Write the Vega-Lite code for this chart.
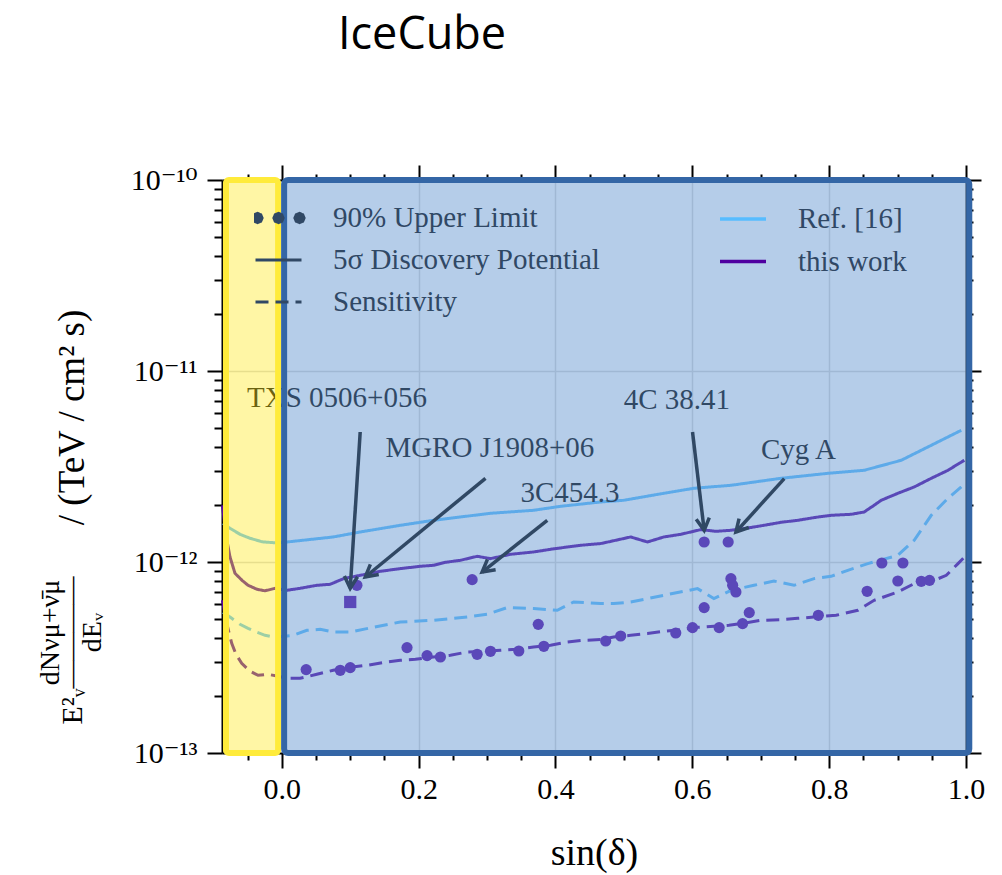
{
  "$schema": "https://vega.github.io/schema/vega-lite/v6.json",
  "width": 744,
  "height": 573,
  "autosize": {"type": "none"},
  "padding": {"left": 222, "top": 180, "right": 36, "bottom": 122},
  "background": "white",
  "config": {
    "view": {"stroke": null},
    "font": "Liberation Serif",
    "axis": {"labelFont": "Liberation Serif, DejaVu Serif", "titleFont": "Liberation Serif, DejaVu Serif", "labelColor": "black", "titleColor": "black", "titleFontWeight": "normal", "tickColor": "black", "domainColor": "black"},
    "legend": {"labelFont": "Liberation Serif", "labelColor": "#304865", "symbolBaseStrokeColor": "#304865", "symbolBaseFillColor": "#304865"}
  },
  "title": {"text": "IceCube", "font": "Open Sans", "fontSize": 45, "fontWeight": "normal", "color": "black", "anchor": "start", "frame": "group", "dx": 116, "baseline": "alphabetic", "offset": 70},
  "datasets": {
    "curves": [
      {"src": "Ref. [16]", "kind": "5σ Discovery Potential", "x": -0.0859, "y": 1.596e-12},
      {"src": "Ref. [16]", "kind": "5σ Discovery Potential", "x": -0.0757, "y": 1.501e-12},
      {"src": "Ref. [16]", "kind": "5σ Discovery Potential", "x": -0.0610, "y": 1.396e-12},
      {"src": "Ref. [16]", "kind": "5σ Discovery Potential", "x": -0.0464, "y": 1.331e-12},
      {"src": "Ref. [16]", "kind": "5σ Discovery Potential", "x": -0.0288, "y": 1.276e-12},
      {"src": "Ref. [16]", "kind": "5σ Discovery Potential", "x": -0.0098, "y": 1.260e-12},
      {"src": "Ref. [16]", "kind": "5σ Discovery Potential", "x": 0.0078, "y": 1.273e-12},
      {"src": "Ref. [16]", "kind": "5σ Discovery Potential", "x": 0.0751, "y": 1.352e-12},
      {"src": "Ref. [16]", "kind": "5σ Discovery Potential", "x": 0.1146, "y": 1.436e-12},
      {"src": "Ref. [16]", "kind": "5σ Discovery Potential", "x": 0.1731, "y": 1.556e-12},
      {"src": "Ref. [16]", "kind": "5σ Discovery Potential", "x": 0.2215, "y": 1.653e-12},
      {"src": "Ref. [16]", "kind": "5σ Discovery Potential", "x": 0.3050, "y": 1.799e-12},
      {"src": "Ref. [16]", "kind": "5σ Discovery Potential", "x": 0.3679, "y": 1.865e-12},
      {"src": "Ref. [16]", "kind": "5σ Discovery Potential", "x": 0.4074, "y": 1.957e-12},
      {"src": "Ref. [16]", "kind": "5σ Discovery Potential", "x": 0.4660, "y": 2.062e-12},
      {"src": "Ref. [16]", "kind": "5σ Discovery Potential", "x": 0.4997, "y": 2.104e-12},
      {"src": "Ref. [16]", "kind": "5σ Discovery Potential", "x": 0.5583, "y": 2.289e-12},
      {"src": "Ref. [16]", "kind": "5σ Discovery Potential", "x": 0.6022, "y": 2.432e-12},
      {"src": "Ref. [16]", "kind": "5σ Discovery Potential", "x": 0.6564, "y": 2.521e-12},
      {"src": "Ref. [16]", "kind": "5σ Discovery Potential", "x": 0.7296, "y": 2.743e-12},
      {"src": "Ref. [16]", "kind": "5σ Discovery Potential", "x": 0.7984, "y": 2.913e-12},
      {"src": "Ref. [16]", "kind": "5σ Discovery Potential", "x": 0.8511, "y": 3.020e-12},
      {"src": "Ref. [16]", "kind": "5σ Discovery Potential", "x": 0.9053, "y": 3.408e-12},
      {"src": "Ref. [16]", "kind": "5σ Discovery Potential", "x": 0.9492, "y": 4.083e-12},
      {"src": "Ref. [16]", "kind": "5σ Discovery Potential", "x": 0.9931, "y": 4.892e-12},

      {"src": "this work", "kind": "5σ Discovery Potential", "x": -0.0867, "y": 1.981e-12},
      {"src": "this work", "kind": "5σ Discovery Potential", "x": -0.0816, "y": 1.380e-12},
      {"src": "this work", "kind": "5σ Discovery Potential", "x": -0.0757, "y": 1.062e-12},
      {"src": "this work", "kind": "5σ Discovery Potential", "x": -0.0684, "y": 8.726e-13},
      {"src": "this work", "kind": "5σ Discovery Potential", "x": -0.0581, "y": 8.017e-13},
      {"src": "this work", "kind": "5σ Discovery Potential", "x": -0.0493, "y": 7.551e-13},
      {"src": "this work", "kind": "5σ Discovery Potential", "x": -0.0362, "y": 7.196e-13},
      {"src": "this work", "kind": "5σ Discovery Potential", "x": -0.0245, "y": 7.067e-13},
      {"src": "this work", "kind": "5σ Discovery Potential", "x": -0.0098, "y": 7.283e-13},
      {"src": "this work", "kind": "5σ Discovery Potential", "x": 0.0073, "y": 7.109e-13},
      {"src": "this work", "kind": "5σ Discovery Potential", "x": 0.0268, "y": 7.283e-13},
      {"src": "this work", "kind": "5σ Discovery Potential", "x": 0.0512, "y": 7.551e-13},
      {"src": "this work", "kind": "5σ Discovery Potential", "x": 0.0707, "y": 7.642e-13},
      {"src": "this work", "kind": "5σ Discovery Potential", "x": 0.0902, "y": 8.183e-13},
      {"src": "this work", "kind": "5σ Discovery Potential", "x": 0.1146, "y": 8.516e-13},
      {"src": "this work", "kind": "5σ Discovery Potential", "x": 0.1439, "y": 8.937e-13},
      {"src": "this work", "kind": "5σ Discovery Potential", "x": 0.1732, "y": 9.234e-13},
      {"src": "this work", "kind": "5σ Discovery Potential", "x": 0.2025, "y": 9.495e-13},
      {"src": "this work", "kind": "5σ Discovery Potential", "x": 0.2215, "y": 9.609e-13},
      {"src": "this work", "kind": "5σ Discovery Potential", "x": 0.2391, "y": 9.963e-13},
      {"src": "this work", "kind": "5σ Discovery Potential", "x": 0.2611, "y": 1.0207e-12},
      {"src": "this work", "kind": "5σ Discovery Potential", "x": 0.2855, "y": 1.0711e-12},
      {"src": "this work", "kind": "5σ Discovery Potential", "x": 0.3050, "y": 1.0418e-12},
      {"src": "this work", "kind": "5σ Discovery Potential", "x": 0.3343, "y": 1.0974e-12},
      {"src": "this work", "kind": "5σ Discovery Potential", "x": 0.3679, "y": 1.1284e-12},
      {"src": "this work", "kind": "5σ Discovery Potential", "x": 0.3928, "y": 1.1656e-12},
      {"src": "this work", "kind": "5σ Discovery Potential", "x": 0.4173, "y": 1.1983e-12},
      {"src": "this work", "kind": "5σ Discovery Potential", "x": 0.4368, "y": 1.2231e-12},
      {"src": "this work", "kind": "5σ Discovery Potential", "x": 0.4660, "y": 1.2485e-12},
      {"src": "this work", "kind": "5σ Discovery Potential", "x": 0.5099, "y": 1.3522e-12},
      {"src": "this work", "kind": "5σ Discovery Potential", "x": 0.5344, "y": 1.2729e-12},
      {"src": "this work", "kind": "5σ Discovery Potential", "x": 0.5583, "y": 1.3522e-12},
      {"src": "this work", "kind": "5σ Discovery Potential", "x": 0.5832, "y": 1.3964e-12},
      {"src": "this work", "kind": "5σ Discovery Potential", "x": 0.6124, "y": 1.4775e-12},
      {"src": "this work", "kind": "5σ Discovery Potential", "x": 0.6344, "y": 1.4475e-12},
      {"src": "this work", "kind": "5σ Discovery Potential", "x": 0.6564, "y": 1.4655e-12},
      {"src": "this work", "kind": "5σ Discovery Potential", "x": 0.6783, "y": 1.5010e-12},
      {"src": "this work", "kind": "5σ Discovery Potential", "x": 0.7047, "y": 1.5562e-12},
      {"src": "this work", "kind": "5σ Discovery Potential", "x": 0.7296, "y": 1.6137e-12},
      {"src": "this work", "kind": "5σ Discovery Potential", "x": 0.7540, "y": 1.6528e-12},
      {"src": "this work", "kind": "5σ Discovery Potential", "x": 0.7808, "y": 1.7140e-12},
      {"src": "this work", "kind": "5σ Discovery Potential", "x": 0.8028, "y": 1.7558e-12},
      {"src": "this work", "kind": "5σ Discovery Potential", "x": 0.8321, "y": 1.7770e-12},
      {"src": "this work", "kind": "5σ Discovery Potential", "x": 0.8511, "y": 1.8272e-12},
      {"src": "this work", "kind": "5σ Discovery Potential", "x": 0.8657, "y": 1.9813e-12},
      {"src": "this work", "kind": "5σ Discovery Potential", "x": 0.8760, "y": 2.1038e-12},
      {"src": "this work", "kind": "5σ Discovery Potential", "x": 0.9004, "y": 2.2895e-12},
      {"src": "this work", "kind": "5σ Discovery Potential", "x": 0.9243, "y": 2.4705e-12},
      {"src": "this work", "kind": "5σ Discovery Potential", "x": 0.9492, "y": 2.7427e-12},
      {"src": "this work", "kind": "5σ Discovery Potential", "x": 0.9736, "y": 3.0200e-12},
      {"src": "this work", "kind": "5σ Discovery Potential", "x": 0.9902, "y": 3.2867e-12},
      {"src": "this work", "kind": "5σ Discovery Potential", "x": 0.9975, "y": 3.408e-12},

      {"src": "Ref. [16]", "kind": "Sensitivity", "x": -0.0859, "y": 5.452e-13},
      {"src": "Ref. [16]", "kind": "Sensitivity", "x": -0.0732, "y": 5.071e-13},
      {"src": "Ref. [16]", "kind": "Sensitivity", "x": -0.0611, "y": 4.717e-13},
      {"src": "Ref. [16]", "kind": "Sensitivity", "x": -0.0493, "y": 4.496e-13},
      {"src": "Ref. [16]", "kind": "Sensitivity", "x": -0.0362, "y": 4.285e-13},
      {"src": "Ref. [16]", "kind": "Sensitivity", "x": -0.0245, "y": 4.132e-13},
      {"src": "Ref. [16]", "kind": "Sensitivity", "x": -0.0098, "y": 4.035e-13},
      {"src": "Ref. [16]", "kind": "Sensitivity", "x": 0.0165, "y": 4.132e-13},
      {"src": "Ref. [16]", "kind": "Sensitivity", "x": 0.0366, "y": 4.389e-13},
      {"src": "Ref. [16]", "kind": "Sensitivity", "x": 0.0561, "y": 4.442e-13},
      {"src": "Ref. [16]", "kind": "Sensitivity", "x": 0.0751, "y": 4.300e-13},
      {"src": "Ref. [16]", "kind": "Sensitivity", "x": 0.1000, "y": 4.300e-13},
      {"src": "Ref. [16]", "kind": "Sensitivity", "x": 0.1337, "y": 4.551e-13},
      {"src": "Ref. [16]", "kind": "Sensitivity", "x": 0.1732, "y": 4.851e-13},
      {"src": "Ref. [16]", "kind": "Sensitivity", "x": 0.2215, "y": 4.951e-13},
      {"src": "Ref. [16]", "kind": "Sensitivity", "x": 0.2709, "y": 5.152e-13},
      {"src": "Ref. [16]", "kind": "Sensitivity", "x": 0.3001, "y": 5.323e-13},
      {"src": "Ref. [16]", "kind": "Sensitivity", "x": 0.3294, "y": 5.771e-13},
      {"src": "Ref. [16]", "kind": "Sensitivity", "x": 0.3679, "y": 5.702e-13},
      {"src": "Ref. [16]", "kind": "Sensitivity", "x": 0.4026, "y": 5.586e-13},
      {"src": "Ref. [16]", "kind": "Sensitivity", "x": 0.4265, "y": 6.174e-13},
      {"src": "Ref. [16]", "kind": "Sensitivity", "x": 0.4660, "y": 6.056e-13},
      {"src": "Ref. [16]", "kind": "Sensitivity", "x": 0.4851, "y": 6.056e-13},
      {"src": "Ref. [16]", "kind": "Sensitivity", "x": 0.5100, "y": 6.174e-13},
      {"src": "Ref. [16]", "kind": "Sensitivity", "x": 0.5583, "y": 6.693e-13},
      {"src": "Ref. [16]", "kind": "Sensitivity", "x": 0.6076, "y": 7.256e-13},
      {"src": "Ref. [16]", "kind": "Sensitivity", "x": 0.6315, "y": 6.432e-13},
      {"src": "Ref. [16]", "kind": "Sensitivity", "x": 0.6564, "y": 7.109e-13},
      {"src": "Ref. [16]", "kind": "Sensitivity", "x": 0.6901, "y": 7.551e-13},
      {"src": "Ref. [16]", "kind": "Sensitivity", "x": 0.7193, "y": 7.950e-13},
      {"src": "Ref. [16]", "kind": "Sensitivity", "x": 0.7486, "y": 7.551e-13},
      {"src": "Ref. [16]", "kind": "Sensitivity", "x": 0.7779, "y": 8.183e-13},
      {"src": "Ref. [16]", "kind": "Sensitivity", "x": 0.8028, "y": 8.413e-13},
      {"src": "Ref. [16]", "kind": "Sensitivity", "x": 0.8272, "y": 9.047e-13},
      {"src": "Ref. [16]", "kind": "Sensitivity", "x": 0.8565, "y": 9.808e-13},
      {"src": "Ref. [16]", "kind": "Sensitivity", "x": 0.9004, "y": 1.0840e-12},
      {"src": "Ref. [16]", "kind": "Sensitivity", "x": 0.9243, "y": 1.2993e-12},
      {"src": "Ref. [16]", "kind": "Sensitivity", "x": 0.9492, "y": 1.7558e-12},
      {"src": "Ref. [16]", "kind": "Sensitivity", "x": 0.9736, "y": 2.1553e-12},
      {"src": "Ref. [16]", "kind": "Sensitivity", "x": 0.9931, "y": 2.4705e-12},
      {"src": "Ref. [16]", "kind": "Sensitivity", "x": 0.9975, "y": 2.552e-12},

      {"src": "this work", "kind": "Sensitivity", "x": -0.0867, "y": 6.301e-13},
      {"src": "this work", "kind": "Sensitivity", "x": -0.0816, "y": 4.951e-13},
      {"src": "this work", "kind": "Sensitivity", "x": -0.0732, "y": 3.751e-13},
      {"src": "this work", "kind": "Sensitivity", "x": -0.0669, "y": 3.287e-13},
      {"src": "this work", "kind": "Sensitivity", "x": -0.0586, "y": 2.949e-13},
      {"src": "this work", "kind": "Sensitivity", "x": -0.0464, "y": 2.677e-13},
      {"src": "this work", "kind": "Sensitivity", "x": -0.0347, "y": 2.551e-13},
      {"src": "this work", "kind": "Sensitivity", "x": -0.0201, "y": 2.582e-13},
      {"src": "this work", "kind": "Sensitivity", "x": -0.0054, "y": 2.521e-13},
      {"src": "this work", "kind": "Sensitivity", "x": 0.0073, "y": 2.461e-13},
      {"src": "this work", "kind": "Sensitivity", "x": 0.0268, "y": 2.461e-13},
      {"src": "this work", "kind": "Sensitivity", "x": 0.0512, "y": 2.582e-13},
      {"src": "this work", "kind": "Sensitivity", "x": 0.0751, "y": 2.710e-13},
      {"src": "this work", "kind": "Sensitivity", "x": 0.1000, "y": 2.810e-13},
      {"src": "this work", "kind": "Sensitivity", "x": 0.1245, "y": 2.879e-13},
      {"src": "this work", "kind": "Sensitivity", "x": 0.1512, "y": 2.985e-13},
      {"src": "this work", "kind": "Sensitivity", "x": 0.1732, "y": 3.057e-13},
      {"src": "this work", "kind": "Sensitivity", "x": 0.1952, "y": 3.094e-13},
      {"src": "this work", "kind": "Sensitivity", "x": 0.2215, "y": 3.181e-13},
      {"src": "this work", "kind": "Sensitivity", "x": 0.2464, "y": 3.247e-13},
      {"src": "this work", "kind": "Sensitivity", "x": 0.2709, "y": 3.379e-13},
      {"src": "this work", "kind": "Sensitivity", "x": 0.2947, "y": 3.408e-13},
      {"src": "this work", "kind": "Sensitivity", "x": 0.3196, "y": 3.449e-13},
      {"src": "this work", "kind": "Sensitivity", "x": 0.3430, "y": 3.491e-13},
      {"src": "this work", "kind": "Sensitivity", "x": 0.3679, "y": 3.589e-13},
      {"src": "this work", "kind": "Sensitivity", "x": 0.3928, "y": 3.663e-13},
      {"src": "this work", "kind": "Sensitivity", "x": 0.4173, "y": 3.812e-13},
      {"src": "this work", "kind": "Sensitivity", "x": 0.4411, "y": 3.891e-13},
      {"src": "this work", "kind": "Sensitivity", "x": 0.4660, "y": 3.924e-13},
      {"src": "this work", "kind": "Sensitivity", "x": 0.4851, "y": 4.049e-13},
      {"src": "this work", "kind": "Sensitivity", "x": 0.5100, "y": 4.132e-13},
      {"src": "this work", "kind": "Sensitivity", "x": 0.5344, "y": 4.218e-13},
      {"src": "this work", "kind": "Sensitivity", "x": 0.5583, "y": 4.337e-13},
      {"src": "this work", "kind": "Sensitivity", "x": 0.5832, "y": 4.427e-13},
      {"src": "this work", "kind": "Sensitivity", "x": 0.6081, "y": 4.551e-13},
      {"src": "this work", "kind": "Sensitivity", "x": 0.6315, "y": 4.606e-13},
      {"src": "this work", "kind": "Sensitivity", "x": 0.6535, "y": 4.662e-13},
      {"src": "this work", "kind": "Sensitivity", "x": 0.6711, "y": 4.758e-13},
      {"src": "this work", "kind": "Sensitivity", "x": 0.7003, "y": 4.951e-13},
      {"src": "this work", "kind": "Sensitivity", "x": 0.7296, "y": 4.993e-13},
      {"src": "this work", "kind": "Sensitivity", "x": 0.7540, "y": 5.071e-13},
      {"src": "this work", "kind": "Sensitivity", "x": 0.7779, "y": 5.152e-13},
      {"src": "this work", "kind": "Sensitivity", "x": 0.8101, "y": 5.258e-13},
      {"src": "this work", "kind": "Sensitivity", "x": 0.8419, "y": 5.586e-13},
      {"src": "this work", "kind": "Sensitivity", "x": 0.8657, "y": 6.301e-13},
      {"src": "this work", "kind": "Sensitivity", "x": 0.9004, "y": 6.965e-13},
      {"src": "this work", "kind": "Sensitivity", "x": 0.9243, "y": 7.705e-13},
      {"src": "this work", "kind": "Sensitivity", "x": 0.9536, "y": 8.017e-13},
      {"src": "this work", "kind": "Sensitivity", "x": 0.9712, "y": 8.516e-13},
      {"src": "this work", "kind": "Sensitivity", "x": 0.9883, "y": 9.808e-13},
      {"src": "this work", "kind": "Sensitivity", "x": 0.9960, "y": 1.0457e-12}
    ],
    "limits": [
      {"kind": "90% Upper Limit", "x": 0.0356, "y": 2.733e-13},
      {"kind": "90% Upper Limit", "x": 0.0854, "y": 2.710e-13},
      {"kind": "90% Upper Limit", "x": 0.1000, "y": 2.800e-13},
      {"kind": "90% Upper Limit", "x": 0.1098, "y": 7.551e-13},
      {"kind": "90% Upper Limit", "x": 0.1830, "y": 3.563e-13},
      {"kind": "90% Upper Limit", "x": 0.2123, "y": 3.235e-13},
      {"kind": "90% Upper Limit", "x": 0.2318, "y": 3.181e-13},
      {"kind": "90% Upper Limit", "x": 0.2782, "y": 8.085e-13},
      {"kind": "90% Upper Limit", "x": 0.2855, "y": 3.287e-13},
      {"kind": "90% Upper Limit", "x": 0.3050, "y": 3.408e-13},
      {"kind": "90% Upper Limit", "x": 0.3464, "y": 3.420e-13},
      {"kind": "90% Upper Limit", "x": 0.3748, "y": 4.717e-13},
      {"kind": "90% Upper Limit", "x": 0.3830, "y": 3.620e-13},
      {"kind": "90% Upper Limit", "x": 0.4734, "y": 3.858e-13},
      {"kind": "90% Upper Limit", "x": 0.4953, "y": 4.098e-13},
      {"kind": "90% Upper Limit", "x": 0.5758, "y": 4.249e-13},
      {"kind": "90% Upper Limit", "x": 0.6003, "y": 4.534e-13},
      {"kind": "90% Upper Limit", "x": 0.6173, "y": 5.771e-13},
      {"kind": "90% Upper Limit", "x": 0.6173, "y": 1.2729e-12},
      {"kind": "90% Upper Limit", "x": 0.6392, "y": 4.534e-13},
      {"kind": "90% Upper Limit", "x": 0.6524, "y": 1.2729e-12},
      {"kind": "90% Upper Limit", "x": 0.6564, "y": 8.183e-13},
      {"kind": "90% Upper Limit", "x": 0.6589, "y": 7.551e-13},
      {"kind": "90% Upper Limit", "x": 0.6637, "y": 6.965e-13},
      {"kind": "90% Upper Limit", "x": 0.6735, "y": 4.758e-13},
      {"kind": "90% Upper Limit", "x": 0.6832, "y": 5.433e-13},
      {"kind": "90% Upper Limit", "x": 0.7842, "y": 5.258e-13},
      {"kind": "90% Upper Limit", "x": 0.8555, "y": 7.024e-13},
      {"kind": "90% Upper Limit", "x": 0.8770, "y": 9.881e-13},
      {"kind": "90% Upper Limit", "x": 0.9078, "y": 9.881e-13},
      {"kind": "90% Upper Limit", "x": 0.9004, "y": 7.950e-13},
      {"kind": "90% Upper Limit", "x": 0.9346, "y": 7.924e-13},
      {"kind": "90% Upper Limit", "x": 0.9467, "y": 8.017e-13}
    ],
    "txs": [
      {"x": 0.1000, "y": 6.174e-13}
    ],
    "arrows": [
      {"name": "TXS 0506+056", "x": 0.1000, "y": 7.283e-13, "x0": 0.1146, "y0": 4.793e-12},
      {"name": "MGRO J1908+06", "x": 0.1220, "y": 8.345e-13, "x0": 0.2977, "y0": 2.743e-12},
      {"name": "3C454.3", "x": 0.2928, "y": 8.862e-13, "x0": 0.3880, "y0": 1.6528e-12},
      {"name": "4C 38.41", "x": 0.6173, "y": 1.4655e-12, "x0": 0.6003, "y0": 4.793e-12},
      {"name": "Cyg A", "x": 0.6637, "y": 1.436e-12, "x0": 0.7344, "y0": 2.733e-12}
    ],
    "labels": [
      {"name": "TXS 0506+056", "x": -0.0508, "y": 7.195e-12},
      {"name": "MGRO J1908+06", "x": 0.1514, "y": 3.937e-12},
      {"name": "3C454.3", "x": 0.3489, "y": 2.289e-12},
      {"name": "4C 38.41", "x": 0.4997, "y": 7.025e-12},
      {"name": "Cyg A", "x": 0.7003, "y": 3.844e-12}
    ],
    "south": [{"lo": -0.0816, "hi": -0.0054}],
    "north": [{"lo": 0.0034, "hi": 1.0048}]
  },
  "layer": [
    {
      "data": {"name": "curves"},
      "mark": {"type": "line", "strokeWidth": 3},
      "encoding": {
        "x": {
          "field": "x", "type": "quantitative",
          "scale": {"domain": [-0.0874, 1.0], "nice": false, "zero": false},
          "axis": {
            "orient": "bottom",
            "values": [-0.05, 0, 0.05, 0.1, 0.15, 0.2, 0.25, 0.3, 0.35, 0.4, 0.45, 0.5, 0.55, 0.6, 0.65, 0.7, 0.75, 0.8, 0.85, 0.9, 0.95, 1],
            "labelExpr": "abs(datum.value*5-round(datum.value*5))<0.001 ? format(datum.value,'.1f') : ''",
            "labelFontSize": 30, "labelPadding": 6, "labelFlush": false, "labelOverlap": false,
            "tickWidth": 2,
            "tickSize": {"condition": {"test": "abs(datum.value*5-round(datum.value*5))<0.001", "value": 15}, "value": 7},
            "domainWidth": 2,
            "grid": true, "gridColor": "#D6D6D6", "gridWidth": 1.5,
            "gridOpacity": {"condition": {"test": "abs(datum.value*5-round(datum.value*5))<0.001", "value": 1}, "value": 0},
            "title": "sin(δ)", "titleFontSize": 38, "titlePadding": 30
          }
        },
        "y": {
          "field": "y", "type": "quantitative",
          "scale": {"type": "log", "domain": [1e-13, 1e-10], "nice": false},
          "axis": {
            "orient": "left",
            "values": [1e-13, 2e-13, 3e-13, 4e-13, 5e-13, 6e-13, 7e-13, 8e-13, 9e-13, 1e-12, 2e-12, 3e-12, 4e-12, 5e-12, 6e-12, 7e-12, 8e-12, 9e-12, 1e-11, 2e-11, 3e-11, 4e-11, 5e-11, 6e-11, 7e-11, 8e-11, 9e-11, 1e-10],
            "labelExpr": "abs(log(datum.value)/LN10-round(log(datum.value)/LN10))<0.01 ? '10⁻¹' + ['⁰','¹','²','³'][round(-log(datum.value)/LN10)-10] : ''",
            "labelFontSize": 30, "labelPadding": 10, "labelOverlap": false,
            "tickWidth": 2,
            "tickSize": {"condition": {"test": "abs(log(datum.value)/LN10-round(log(datum.value)/LN10))<0.01", "value": 15}, "value": 8},
            "domainWidth": 2,
            "grid": true, "gridColor": "#D6D6D6", "gridWidth": 1.5,
            "gridOpacity": {"condition": {"test": "abs(log(datum.value)/LN10-round(log(datum.value)/LN10))<0.01", "value": 1}, "value": 0},
            "title": ["dNνμ+ν\u0304μ", "――――", "dEᵥ"],
            "titleFontSize": 28, "titleLineHeight": 21, "titleAlign": "center", "titleAngle": 270, "titleBaseline": "middle",
            "titleX": -172, "titleY": 452
          }
        },
        "color": {
          "field": "src", "type": "nominal",
          "scale": {"domain": ["Ref. [16]", "this work"], "range": ["#57BCFF", "#4F00A0"]},
          "legend": {
            "orient": "none", "legendX": 496, "legendY": 24, "title": null, "padding": 0,
            "symbolType": "stroke", "symbolSize": 2116, "symbolStrokeWidth": 3.5,
            "clipHeight": 30, "rowPadding": 12.5, "labelOffset": 30,
            "labelFontSize": 29, "labelLimit": 0,
            "encode": {
              "symbols": {"update": {"stroke": {"signal": "datum.value === 'Ref. [16]' ? '#5DAAEA' : '#5948B8'"}, "opacity": {"value": 1}}}
            }
          }
        },
        "strokeDash": {
          "field": "kind", "type": "nominal",
          "scale": {"domain": ["90% Upper Limit", "5σ Discovery Potential", "Sensitivity"], "range": [[1, 0], [1, 0], [13, 7]]},
          "legend": {
            "orient": "none", "legendX": 32, "legendY": 23, "title": null, "padding": 0,
            "symbolType": "stroke", "symbolSize": 2116, "symbolStrokeWidth": 3,
            "clipHeight": 30, "rowPadding": 12, "labelOffset": 30,
            "labelFontSize": 29, "labelLimit": 0,
            "encode": {
              "symbols": {
                "update": {
                  "shape": {"signal": "datum.value === '90% Upper Limit' ? 'M-0.713,0L-0.772,0.141L-0.913,0.2L-1.054,0.141L-1.113,0L-1.054,-0.141L-0.913,-0.2L-0.772,-0.141ZM0.2,0L0.141,0.141L0,0.2L-0.141,0.141L-0.2,0L-0.141,-0.141L0,-0.2L0.141,-0.141ZM1.113,0L1.054,0.141L0.913,0.2L0.772,0.141L0.713,0L0.772,-0.141L0.913,-0.2L1.054,-0.141Z' : 'stroke'"},
                  "fill": {"signal": "datum.value === '90% Upper Limit' ? '#304865' : 'transparent'"},
                  "stroke": {"value": "#304865"},
                  "opacity": {"value": 1}
                }
              }
            }
          }
        }
      }
    },
    {
      "data": {"name": "limits"},
      "mark": {"type": "point", "filled": true, "size": 125, "color": "#5200A3", "opacity": 1},
      "encoding": {
        "x": {
          "field": "x", "type": "quantitative",
          "scale": {"domain": [-0.0874, 1.0], "nice": false, "zero": false},
          "axis": {
            "orient": "top",
            "values": [-0.05, 0, 0.05, 0.1, 0.15, 0.2, 0.25, 0.3, 0.35, 0.4, 0.45, 0.5, 0.55, 0.6, 0.65, 0.7, 0.75, 0.8, 0.85, 0.9, 0.95, 1],
            "labels": false, "grid": false, "title": null,
            "tickWidth": 2,
            "tickSize": {"condition": {"test": "abs(datum.value*5-round(datum.value*5))<0.001", "value": 15}, "value": 6},
            "domainWidth": 2
          }
        },
        "y": {
          "field": "y", "type": "quantitative",
          "scale": {"type": "log", "domain": [1e-13, 1e-10], "nice": false},
          "axis": {
            "orient": "right",
            "values": [1e-13, 2e-13, 3e-13, 4e-13, 5e-13, 6e-13, 7e-13, 8e-13, 9e-13, 1e-12, 2e-12, 3e-12, 4e-12, 5e-12, 6e-12, 7e-12, 8e-12, 9e-12, 1e-11, 2e-11, 3e-11, 4e-11, 5e-11, 6e-11, 7e-11, 8e-11, 9e-11, 1e-10],
            "labels": false, "grid": false, "title": null,
            "tickWidth": 2,
            "tickSize": {"condition": {"test": "abs(log(datum.value)/LN10-round(log(datum.value)/LN10))<0.01", "value": 15}, "value": 7},
            "domainWidth": 2
          }
        }
      }
    },
    {
      "data": {"name": "txs"},
      "mark": {"type": "square", "size": 150, "color": "#5200A3", "opacity": 1},
      "encoding": {
        "x": {"field": "x", "type": "quantitative", "axis": null},
        "y": {
          "field": "y", "type": "quantitative",
          "scale": {"type": "log", "domain": [1e-13, 1e-10], "nice": false},
          "axis": {
            "orient": "left", "labels": false, "ticks": false, "domain": false, "grid": false,
            "title": "E²ᵥ", "titleFontSize": 30, "titleAlign": "center", "titleAngle": 270, "titleBaseline": "middle",
            "titleX": -150, "titleY": 526
          }
        }
      }
    },
    {
      "data": {"name": "arrows"},
      "mark": {"type": "rule", "color": "black", "strokeWidth": 3.5},
      "encoding": {
        "x": {"field": "x", "type": "quantitative", "axis": null},
        "y": {"field": "y", "type": "quantitative", "axis": null},
        "x2": {"field": "x0"},
        "y2": {"field": "y0"}
      }
    },
    {
      "data": {"name": "arrows"},
      "mark": {
        "type": "point", "shape": "M-0.55,1L0,0L0.55,1", "filled": false, "size": 576,
        "color": "black", "strokeWidth": 3.5, "opacity": 1,
        "angle": {"expr": "atan2(scale('x', datum.x) - scale('x', datum.x0), scale('y', datum.y0) - scale('y', datum.y)) * 180 / PI"}
      },
      "encoding": {
        "x": {"field": "x", "type": "quantitative", "axis": null},
        "y": {"field": "y", "type": "quantitative", "axis": null}
      }
    },
    {
      "data": {"name": "labels"},
      "mark": {"type": "text", "align": "left", "baseline": "middle", "font": "Liberation Serif", "fontSize": 29, "color": "black"},
      "encoding": {
        "text": {"field": "name"},
        "x": {"field": "x", "type": "quantitative", "axis": null},
        "y": {
          "field": "y", "type": "quantitative",
          "scale": {"type": "log", "domain": [1e-13, 1e-10], "nice": false},
          "axis": {
            "orient": "left", "labels": false, "ticks": false, "domain": false, "grid": false,
            "title": "/ (TeV / cm² s)", "titleFontSize": 37, "titleAlign": "center", "titleAngle": 270, "titleBaseline": "middle",
            "titleX": -150, "titleY": 237
          }
        }
      }
    },
    {
      "data": {"name": "south"},
      "mark": {"type": "rect", "fill": "#FFE928", "fillOpacity": 0.42, "stroke": "#FFEB3B", "strokeWidth": 6, "strokeOpacity": 1, "cornerRadius": 3},
      "encoding": {
        "x": {"field": "lo", "type": "quantitative", "axis": null},
        "x2": {"field": "hi"}
      }
    },
    {
      "data": {"name": "north"},
      "mark": {"type": "rect", "fill": "#6496D2", "fillOpacity": 0.48, "stroke": "#3466A6", "strokeWidth": 6, "strokeOpacity": 1, "cornerRadius": 4},
      "encoding": {
        "x": {"field": "lo", "type": "quantitative", "axis": null},
        "x2": {"field": "hi"}
      }
    }
  ],
  "resolve": {"axis": {"x": "independent", "y": "independent"}}
}
